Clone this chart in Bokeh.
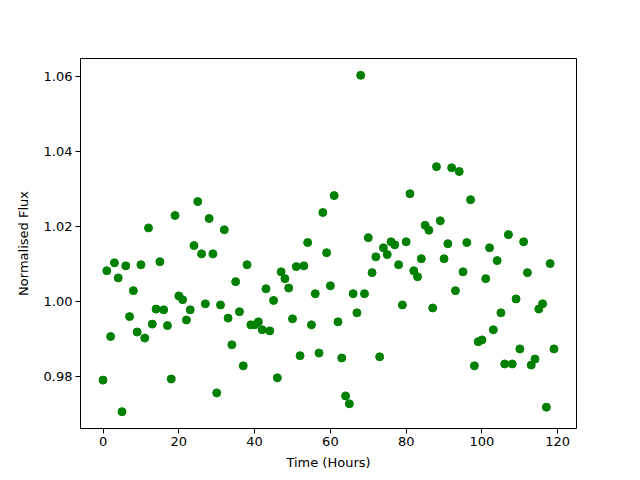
from bokeh.plotting import figure
from bokeh.models import FixedTicker, PrintfTickFormatter, Range1d, ColumnDataSource
from bokeh.embed import file_html
from bokeh.resources import INLINE

hours = list(range(120))
flux = [
    0.9791, 1.0082, 0.9907, 1.0103, 1.0063, 0.9707, 1.0095, 0.9960, 1.0029, 0.9919,
    1.0098, 0.9903, 1.0196, 0.9940, 0.9980, 1.0106, 0.9978, 0.9936, 0.9794, 1.0229,
    1.0015, 1.0005, 0.9951, 0.9978, 1.0149, 1.0266, 1.0127, 0.9994, 1.0221, 1.0127,
    0.9757, 0.9991, 1.0191, 0.9956, 0.9885, 1.0053, 0.9973, 0.9829, 1.0098, 0.9938,
    0.9938, 0.9946, 0.9925, 1.0034, 0.9922, 1.0003, 0.9797, 1.0079, 1.0061, 1.0036,
    0.9954, 1.0093, 0.9856, 1.0095, 1.0157, 0.9938, 1.0021, 0.9863, 1.0237, 1.0130,
    1.0042, 1.0282, 0.9946, 0.9850, 0.9749, 0.9728, 1.0021, 0.9970, 1.0602, 1.0021,
    1.0170, 1.0077, 1.0119, 0.9853, 1.0143, 1.0125, 1.0159, 1.0151, 1.0098, 0.9991,
    1.0159, 1.0287, 1.0082, 1.0066, 1.0114, 1.0203, 1.0190, 0.9983, 1.0359, 1.0215,
    1.0114, 1.0154, 1.0356, 1.0029, 1.0346, 1.0079, 1.0157, 1.0271, 0.9829, 0.9893,
    0.9898, 1.0061, 1.0143, 0.9925, 1.0109, 0.9970, 0.9834, 1.0178, 0.9834, 1.0007,
    0.9874, 1.0159, 1.0077, 0.9831, 0.9847, 0.9980, 0.9994, 0.9719, 1.0101, 0.9874,
]
x_ticks = [0, 20, 40, 60, 80, 100, 120]
y_ticks = [0.98, 1.00, 1.02, 1.04, 1.06]
x_label = "Time (Hours)"
y_label = "Normalised Flux"

def padded(vals, frac=0.05):
    lo, hi = min(vals), max(vals)
    m = (hi - lo) * frac
    return lo - m, hi + m

x0, x1 = padded(hours)
y0, y1 = padded(flux)

p = figure(width=640, height=480, output_backend="svg", toolbar_location=None,
           x_range=Range1d(x0, x1), y_range=Range1d(y0, y1),
           min_border_left=80, min_border_right=64, min_border_top=58, min_border_bottom=52)

src = ColumnDataSource(dict(x=hours, y=flux))
p.scatter("x", "y", source=src, size=8, fill_color="#008000", line_color="#008000", line_width=1)

p.xgrid.visible = False
p.ygrid.visible = False
p.outline_line_color = "black"
p.outline_line_width = 1
p.background_fill_color = "white"
p.border_fill_color = "white"

p.xaxis.ticker = FixedTicker(ticks=x_ticks)
p.yaxis.ticker = FixedTicker(ticks=y_ticks)
p.yaxis.formatter = PrintfTickFormatter(format="%.2f")
p.xaxis.axis_label = x_label
p.yaxis.axis_label = y_label

for ax in (p.xaxis[0], p.yaxis[0]):
    ax.axis_line_color = None
    ax.major_tick_line_color = "black"
    ax.major_tick_out = 5
    ax.major_tick_in = 0
    ax.minor_tick_line_color = None
    ax.major_label_text_font = "DejaVu Sans"
    ax.major_label_text_font_size = "13px"
    ax.major_label_text_color = "black"
    ax.axis_label_text_font = "DejaVu Sans"
    ax.axis_label_text_font_size = "13px"
    ax.axis_label_text_font_style = "normal"
    ax.axis_label_text_color = "black"
    ax.major_label_standoff = 3

p.xaxis.axis_label_standoff = 6
p.yaxis.axis_label_standoff = 10

open("out.html", "w").write(file_html(p, INLINE))
